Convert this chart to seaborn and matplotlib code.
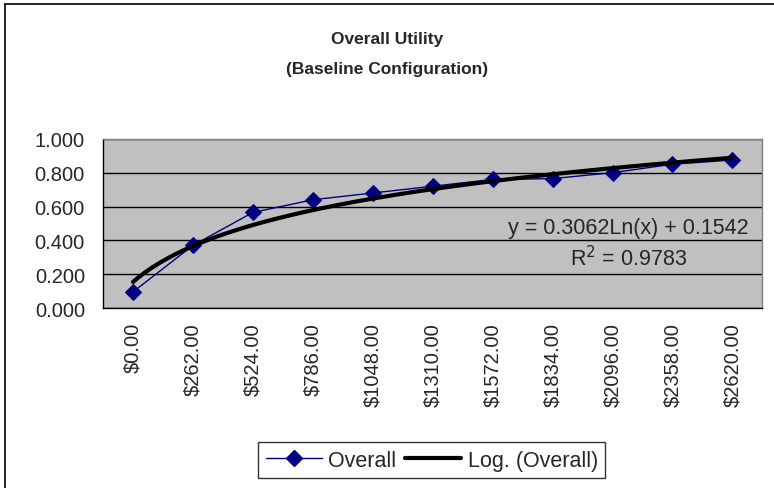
import numpy as np
import pandas as pd
import seaborn as sns
import matplotlib.pyplot as plt
from matplotlib.lines import Line2D
from matplotlib.ticker import MultipleLocator, FixedLocator

# values
cost_labels = ['$0.00', '$262.00', '$524.00', '$786.00', '$1048.00', '$1310.00',
               '$1572.00', '$1834.00', '$2096.00', '$2358.00', '$2620.00']
overall = [0.095, 0.37, 0.565, 0.64, 0.68, 0.72, 0.76, 0.765, 0.80, 0.85, 0.875]
# trendline coefficients as printed on the chart
trend_slope = 0.3062
trend_icpt = 0.1542
trend_r2 = 0.9783

sns.set_style('white')
plt.rcParams['font.family'] = ['Liberation Sans', 'DejaVu Sans']

df = pd.DataFrame({'pos': np.arange(len(overall)), 'Overall': overall})

# logarithmic trendline (Excel style: x = 1..n)
fine = np.linspace(1, len(overall), 200)
trend = pd.DataFrame({'pos': fine - 1, 'trend': trend_icpt + trend_slope * np.log(fine)})

fig = plt.figure(figsize=(7.74, 4.89), dpi=100)
ax = fig.add_axes([0.133, 0.368, 0.852, 0.346])
ax.set_facecolor('#C0C0C0')

sns.lineplot(data=df, x='pos', y='Overall', ax=ax, color='#000080', linewidth=1,
             marker='D', markersize=8, markeredgecolor='#000080', zorder=3)
sns.lineplot(data=trend, x='pos', y='trend', ax=ax, color='black', linewidth=3, zorder=4)

ax.set_xlim(-0.5, len(overall) - 0.5)
ax.set_ylim(0, 1.0)
ax.yaxis.set_major_locator(MultipleLocator(0.2))
ax.set_yticklabels([f'{v:.3f}' for v in ax.get_yticks()], fontsize=14.5)
ax.grid(axis='y', color='black', linewidth=1)
ax.set_axisbelow(True)

ax.set_xticks(df['pos'])
ax.set_xticklabels(cost_labels, rotation=90, fontsize=14.5)
ax.xaxis.set_minor_locator(FixedLocator(np.arange(0.5, len(overall) - 0.5, 1)))
ax.tick_params(axis='x', which='major', length=0, pad=10)
ax.tick_params(axis='x', which='minor', length=6, width=1, color='black', direction='out')
ax.tick_params(axis='y', length=5, width=1, color='black', direction='out', pad=8)
ax.set_xlabel('')
ax.set_ylabel('')
for s in ['left', 'bottom']:
    ax.spines[s].set_color('black')
    ax.spines[s].set_linewidth(1)
for s in ['top', 'right']:
    ax.spines[s].set_color('#808080')
    ax.spines[s].set_linewidth(1)

ax.text(8.27, 0.475, f'y = {trend_slope:.4f}Ln(x) + {trend_icpt:.4f}', ha='center', va='center', fontsize=15.5)
ax.text(8.27, 0.30, f'R$^2$ = {trend_r2:.4f}', ha='center', va='center', fontsize=15.5)

fig.text(0.5, 0.920, 'Overall Utility', ha='center', va='center', fontsize=12.5, fontweight='bold')
fig.text(0.5, 0.857, '(Baseline Configuration)', ha='center', va='center', fontsize=12.5, fontweight='bold')

handles = [Line2D([], [], color='#000080', linewidth=1, marker='D', markersize=8),
           Line2D([], [], color='black', linewidth=3)]
leg = fig.legend(handles, ['Overall', 'Log. (Overall)'], loc='center', bbox_to_anchor=(0.558, 0.057),
                 ncol=2, fontsize=15.5, frameon=True, fancybox=False, handlelength=2.6,
                 handletextpad=0.3, columnspacing=0.4, borderpad=0.35, borderaxespad=0)
leg.get_frame().set_edgecolor('black')
leg.get_frame().set_linewidth(1)

# outer chart border
fig.add_artist(Line2D([0.0065, 0.0065], [0, 0.99], color='black', linewidth=1.2, transform=fig.transFigure))
fig.add_artist(Line2D([0.0065, 1], [0.99, 0.99], color='black', linewidth=1.2, transform=fig.transFigure))

fig.savefig('out.png', dpi=100)
